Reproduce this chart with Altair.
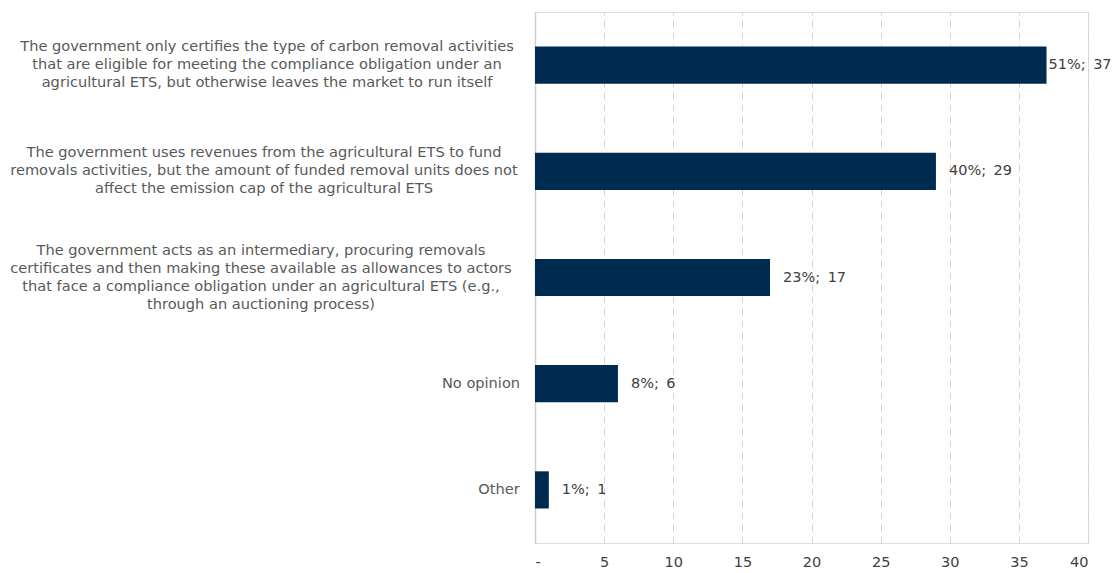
import altair as alt
import pandas as pd

categories = [
    "The government only certifies the type of carbon removal activities|that are eligible for meeting the compliance obligation under an|agricultural ETS, but otherwise leaves the market to run itself",
    "The government uses revenues from the agricultural ETS to fund|removals activities, but the amount of funded removal units does not|affect the emission cap of the agricultural ETS",
    "The government acts as an intermediary, procuring removals|certificates and then making these available as allowances to actors|that face a compliance obligation under an agricultural ETS (e.g.,|through an auctioning process)",
    "No opinion",
    "Other",
]
counts = [37, 29, 17, 6, 1]
percents = ["51%", "40%", "23%", "8%", "1%"]
x_ticks = [0, 5, 10, 15, 20, 25, 30, 35, 40]

# layout: horizontal offset (px) of each label block centre from the zero line
label_centre_offsets = [-268, -271, -274, -54, -36]
LINE_H = 18

df = pd.DataFrame({
    "cat": categories,
    "count": counts,
    "pct": percents,
    "order": list(range(len(categories))),
    "dx": label_centre_offsets,
})
df["vlabel"] = df["pct"] + ";\u00a0\u2009" + df["count"].astype(str)

FONT = "DejaVu Sans"
NAVY = "#002b50"

y_enc = alt.Y(
    "cat:N",
    sort=categories,
    scale=alt.Scale(paddingInner=0.65, paddingOuter=0.325),
    axis=alt.Axis(labels=False, ticks=False, title=None, domain=True,
                  domainColor="#cfcfcf", domainWidth=1.5, grid=False),
)

x_enc = alt.X(
    "count:Q",
    scale=alt.Scale(domain=[0, 40], nice=False),
    axis=alt.Axis(
        values=x_ticks,
        title=None,
        domain=False,
        ticks=False,
        grid=True,
        gridColor="#d4d4d4",
        gridDash=[7, 5],
        gridWidth=1,
        labelExpr="datum.value == 0 ? '-' : datum.label",
        labelFont=FONT,
        labelFontSize=14.5,
        labelColor="#404040",
        labelPadding=12,
    ),
)

base = alt.Chart(df)

bars = base.mark_bar(color=NAVY).encode(x=x_enc, y=y_enc)

values = base.mark_text(
    align="left", baseline="middle", font=FONT, fontSize=14.5, color="#404040",
    dx=alt.ExprRef(expr="datum.order == 0 ? 2 : 13"),
).encode(x="count:Q", y=alt.Y("cat:N", sort=categories), text="vlabel:N")

labels = base.mark_text(
    align="center",
    baseline="middle",
    lineBreak="|",
    lineHeight=LINE_H,
    font=FONT,
    fontSize=14.6,
    color="#595959",
    dx=alt.ExprRef(expr="datum.dx"),
    dy=alt.ExprRef(expr=f"-(length(split(datum.cat, '|')) - 1) * {LINE_H / 2}"),
).encode(x=alt.value(0), y=alt.Y("cat:N", sort=categories), text="cat:N")

chart = (
    alt.layer(bars, values, labels)
    .properties(
        width=553,
        height=531,
        autosize=alt.AutoSizeParams(type="none"),
        padding={"left": 527, "top": 4, "right": 24, "bottom": 26},
    )
    .configure_view(strokeWidth=0)
    .configure(background="white")
)

chart.save("out.html", embed_options={"renderer": "svg", "actions": False})
